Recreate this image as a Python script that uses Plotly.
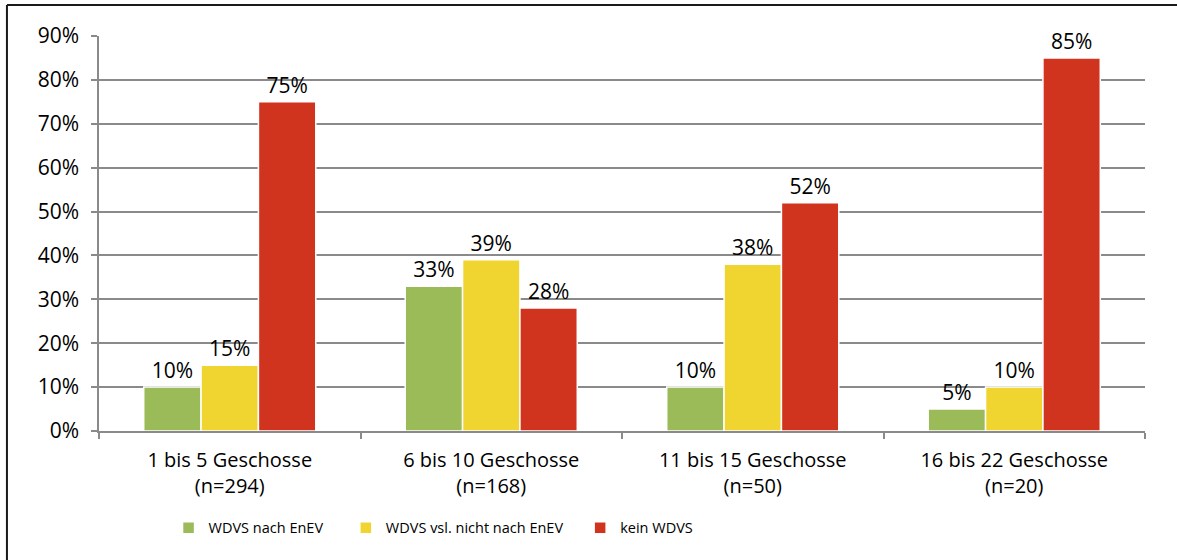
import plotly.graph_objects as go

# Building-height classes (with sample sizes) on the category axis
categories = [
    "1 bis 5 Geschosse<br>(n=294)",
    "6 bis 10 Geschosse<br>(n=168)",
    "11 bis 15 Geschosse<br>(n=50)",
    "16 bis 22 Geschosse<br>(n=20)",
]

# Share of buildings per insulation status (fractions)
wdvs_nach_enev = [0.10, 0.33, 0.10, 0.05]
wdvs_nicht_enev = [0.15, 0.39, 0.38, 0.10]
kein_wdvs = [0.75, 0.28, 0.52, 0.85]

series_names = ["WDVS nach EnEV", "WDVS vsl. nicht nach EnEV", "kein WDVS"]
series_values = [wdvs_nach_enev, wdvs_nicht_enev, kein_wdvs]
series_colors = ["#9BBB59", "#F0D430", "#D0341E"]

y_ticks = [0.0, 0.1, 0.2, 0.3, 0.4, 0.5, 0.6, 0.7, 0.8, 0.9]

FONT = "Open Sans"
GRID = "#8a8a8a"

fig = go.Figure()
legend_ids = ["legend", "legend2", "legend3"]
for name, vals, col, lg in zip(series_names, series_values, series_colors, legend_ids):
    fig.add_trace(
        go.Bar(
            x=categories,
            y=vals,
            name=name,
            legend=lg,
            showlegend=True,
            marker=dict(color=col, line=dict(color="#ffffff", width=1.5)),
            text=vals,
            texttemplate="%{y:.0%}",
            textposition="outside",
            textfont=dict(family=FONT, size=21, color="#000000"),
            cliponaxis=False,
        )
    )

legend_style = dict(
    orientation="h",
    xanchor="left",
    yanchor="middle",
    y=-0.245,
    font=dict(family=FONT, size=14.5, color="#000000"),
    bgcolor="rgba(0,0,0,0)",
    itemwidth=30,
    visible=True,
)

fig.update_layout(
    width=1177,
    height=560,
    margin=dict(l=99, r=32, t=36, b=129),
    paper_bgcolor="#ffffff",
    plot_bgcolor="#ffffff",
    barmode="group",
    bargap=0.342,
    bargroupgap=0.0,
    showlegend=True,
    font=dict(family=FONT, color="#000000"),
    legend=dict(x=0.0665, **legend_style),
    legend2=dict(x=0.236, **legend_style),
    legend3=dict(x=0.460, **legend_style),
    shapes=[
        # outer frame (left and top edges)
        dict(type="line", xref="paper", yref="paper",
             x0=-0.0880, x1=-0.0880, y0=1.0785, y1=-0.40,
             line=dict(color="#1a1a1a", width=2)),
        dict(type="line", xref="paper", yref="paper",
             x0=-0.0880, x1=1.05, y0=1.0785, y1=1.0785,
             line=dict(color="#1a1a1a", width=2)),
    ],
)

fig.update_yaxes(
    range=[0, 0.9],
    tickvals=y_ticks,
    tickformat=".0%",
    showgrid=True,
    gridcolor=GRID,
    gridwidth=1.5,
    showline=True,
    linecolor=GRID,
    linewidth=1.5,
    ticks="outside",
    ticklen=6,
    tickcolor=GRID,
    tickwidth=1.5,
    ticklabelstandoff=8,
    tickfont=dict(family=FONT, size=21, color="#000000"),
    zeroline=False,
)

fig.update_xaxes(
    showline=True,
    linecolor=GRID,
    linewidth=1.5,
    ticks="outside",
    tickson="boundaries",
    ticklen=6,
    tickcolor=GRID,
    tickwidth=1.5,
    tickfont=dict(family=FONT, size=20, color="#000000"),
    ticklabelstandoff=10,
)

fig.write_html("out.html")
